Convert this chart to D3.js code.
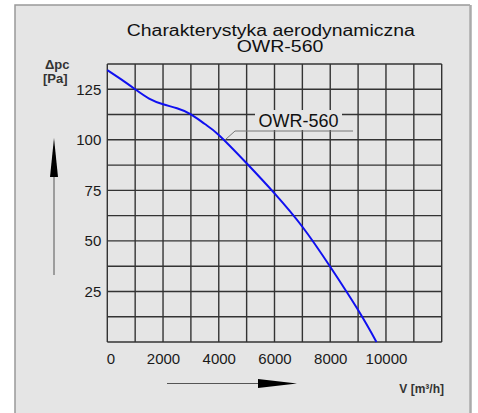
<!DOCTYPE html>
<html>
<head>
<meta charset="utf-8">
<script src="https://cdn.jsdelivr.net/npm/d3@7"></script>
<style>
    body { margin: 0; background: #ffffff; }
    svg { display: block; font-family: "Liberation Sans", Arial, sans-serif; }
</style>
</head>
<body>
<div id="chart"></div>
<script>
"use strict";

// Curve: flow [m3/h] vs static pressure [Pa]
let flow = [0, 500, 1000, 1500, 2000, 2500, 3000, 3500, 4000, 5000, 6000, 7000, 8000, 9000, 9660];
let pressure = [134.5, 129.9, 125, 120.4, 117.6, 115.6, 112.6, 107.8, 102.4, 88.4, 73.5, 57.0, 37.2, 15.8, 0];

let xGrid = d3.range(0, 12001, 1000);
let yGrid = d3.range(0, 137.6, 12.5);
let xTickLabels = [0, 2000, 4000, 6000, 8000, 10000];
let yTickLabels = [25, 50, 75, 100, 125];

let titleLines = ["Charakterystyka aerodynamiczna", "OWR-560"];
let seriesName = "OWR-560";

function draw() {
    let width = 478;
    let height = 413;
    let left = 107.3, right = 441.7, top = 64, bottom = 342;

    let svg = d3.select("#chart").append("svg")
        .attr("width", width).attr("height", height);

    // Grey panel
    svg.append("rect").attr("x", 15).attr("y", 5)
        .attr("width", 455).attr("height", 412)
        .attr("fill", "#e5e5e5");
    svg.append("path").attr("d", "M15,417 V5 H470")
        .attr("fill", "none").attr("stroke", "#999").attr("stroke-width", 1.5);
    svg.append("line").attr("x1", 470.5).attr("x2", 470.5).attr("y1", 5).attr("y2", 413)
        .attr("stroke", "#aaa").attr("stroke-width", 2.5);

    // Title (the original lettering is a little wide, so stretch it)
    svg.append("text").attr("x", 270.8).attr("y", 35.5)
        .attr("text-anchor", "middle").style("font-size", "16px").attr("fill", "#111")
        .attr("textLength", 288).attr("lengthAdjust", "spacingAndGlyphs")
        .text(titleLines[0]);
    svg.append("text").attr("x", 280).attr("y", 52)
        .attr("text-anchor", "middle").style("font-size", "16px").attr("fill", "#111")
        .attr("textLength", 86.7).attr("lengthAdjust", "spacingAndGlyphs")
        .text(titleLines[1]);

    // Scales
    let xScale = d3.scaleLinear().domain([0, 12000]).range([left, right]);
    let yScale = d3.scaleLinear().domain([0, 137.5]).range([bottom, top]);

    // Grid
    let grid = svg.append("g").attr("stroke", "#333").attr("stroke-width", 1.4);
    grid.selectAll(".vx").data(xGrid).enter().append("line")
        .attr("x1", d => xScale(d)).attr("x2", d => xScale(d))
        .attr("y1", top).attr("y2", bottom);
    grid.selectAll(".hy").data(yGrid).enter().append("line")
        .attr("y1", d => yScale(d)).attr("y2", d => yScale(d))
        .attr("x1", left).attr("x2", right);

    // Axis labels
    let xAxis = svg.append("g").attr("transform", `translate(0,${bottom})`)
        .call(d3.axisBottom(xScale).tickValues(xTickLabels).tickFormat(d3.format("d"))
            .tickSize(0).tickPadding(11));
    let yAxis = svg.append("g").attr("transform", `translate(${left},0)`)
        .call(d3.axisLeft(yScale).tickValues(yTickLabels).tickFormat(d3.format("d"))
            .tickSize(0).tickPadding(6));
    [xAxis, yAxis].forEach(function (ax) {
        ax.select(".domain").remove();
        ax.selectAll("text").style("font-size", "15px").attr("fill", "#1a1a1a");
    });
    xAxis.selectAll("text").filter(d => d === 0).attr("dx", "3px");

    // Curve
    let points = flow.map((f, i) => [f, pressure[i]]);
    let line = d3.line().x(d => xScale(d[0])).y(d => yScale(d[1])).curve(d3.curveNatural);
    svg.append("path").datum(points).attr("d", line)
        .attr("fill", "none").attr("stroke", "#1010f0").attr("stroke-width", 2);

    // Series label with leader
    svg.append("rect").attr("x", 255).attr("y", 110).attr("width", 87).attr("height", 20)
        .attr("fill", "#e5e5e5");
    svg.append("path").attr("d", `M${xScale(4230)},${yScale(100)} L235,131 H353`)
        .attr("fill", "none").attr("stroke", "#777").attr("stroke-width", 1);
    svg.append("text").attr("x", 298.5).attr("y", 127)
        .attr("text-anchor", "middle").style("font-size", "18px").attr("fill", "#111")
        .text(seriesName);

    // Unit labels
    svg.append("text").attr("x", 45).attr("y", 69)
        .style("font-size", "13px").style("font-weight", "bold").attr("fill", "#333")
        .text("\u0394pc");
    svg.append("text").attr("x", 43).attr("y", 83)
        .style("font-size", "13px").style("font-weight", "bold").attr("fill", "#333")
        .text("[Pa]");
    svg.append("text").attr("x", 444).attr("y", 393)
        .attr("text-anchor", "end")
        .style("font-size", "12px").style("font-weight", "bold").attr("fill", "#333")
        .text("V [m\u00b3/h]");

    // Direction arrows
    svg.append("line").attr("x1", 54).attr("x2", 54).attr("y1", 275).attr("y2", 170)
        .attr("stroke", "#555").attr("stroke-width", 1);
    svg.append("path").attr("d", "M54,138 L50,177 H58 Z").attr("fill", "#000");
    svg.append("line").attr("x1", 167).attr("x2", 262).attr("y1", 383.5).attr("y2", 383.5)
        .attr("stroke", "#555").attr("stroke-width", 1);
    svg.append("path").attr("d", "M297,383.5 L258,379 V388 Z").attr("fill", "#000");
}

draw();
</script>
</body>
</html>
